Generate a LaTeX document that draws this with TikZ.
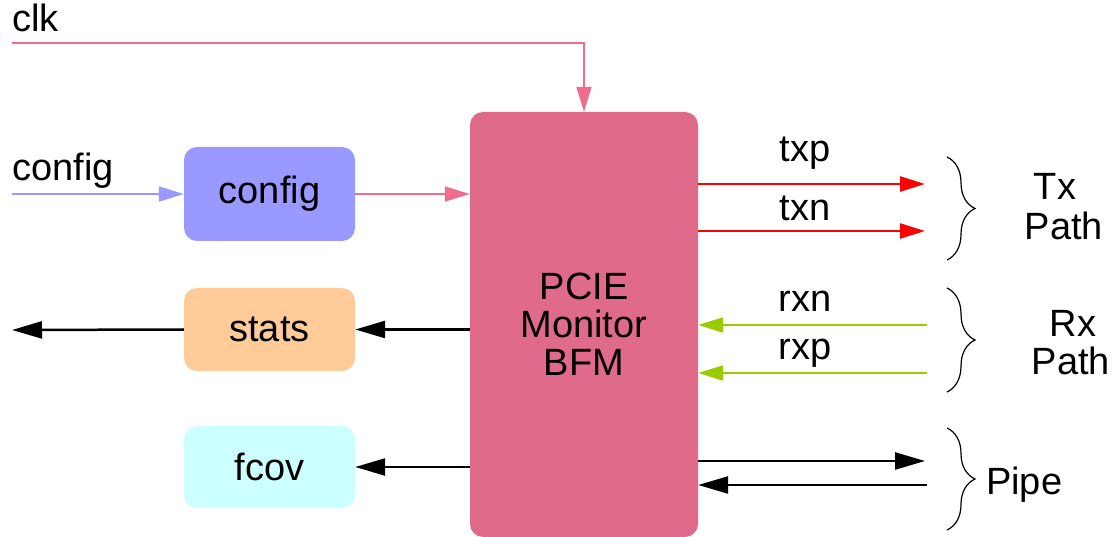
\documentclass[tikz,border=0pt]{standalone}
\usepackage{fontspec}
\setmainfont{Liberation Sans}
\usetikzlibrary{arrows.meta,decorations.pathreplacing}
\definecolor{mainpink}{RGB}{224,106,138}
\definecolor{clkpink}{RGB}{240,108,140}
\definecolor{cfgblue}{RGB}{153,153,255}
\definecolor{statsor}{RGB}{255,204,153}
\definecolor{fcovcy}{RGB}{204,255,255}
\definecolor{rxgreen}{RGB}{153,204,0}
\tikzset{
  lbl/.style={font=\fontsize{38}{38}\selectfont, inner sep=0pt, anchor=base},
  blk/.style={rounded corners=13pt, minimum width=171pt, inner sep=0pt, font=\fontsize{38}{38}\selectfont},
  tip/.style={-{Triangle[length=25pt,width=15pt]}},
  btip/.style={-{Triangle[length=30pt,width=17pt]}},
  brc/.style={decorate, decoration={brace, amplitude=28pt, aspect=0.5}, line width=1.2pt},
}
\begin{document}
\begin{tikzpicture}[x=1pt,y=-1pt]
\useasboundingbox (0,0) rectangle (1117,537);
% blocks
\node[blk, fill=mainpink, minimum width=228pt, minimum height=425pt, align=center] (bfm) at (584,324.5)
  {\fontsize{38}{38}\selectfont PCIE\\Monitor\\BFM};
\node[blk, fill=cfgblue, minimum height=94pt] (cfg) at (269.5,194) {config};
\node[blk, fill=statsor, minimum height=83pt] (stats) at (269.5,329.5) {stats};
\node[blk, fill=fcovcy, minimum height=82pt] (fcov) at (269.5,467) {fcov};
% free ends
\coordinate (clkin) at (12,43);
\coordinate (cfgin) at (12,194);
\coordinate (statsout) at (12,330);
\coordinate (txpend) at (925,184);
\coordinate (txnend) at (925,231);
\coordinate (rxnst) at (927,325);
\coordinate (rxpst) at (927,373);
\coordinate (pipeo) at (925,461);
\coordinate (pipei) at (927,485);
% labels
\node[lbl, anchor=base west] (clkl) at (12,32) {clk};
\node[lbl, anchor=base west] (cfgl) at (12,181) {config};
\node[lbl] (txpl) at (805,162) {txp};
\node[lbl] (txnl) at (805,221) {txn};
\node[lbl] (rxnl) at (805,312) {rxn};
\node[lbl] (rxpl) at (805,360) {rxp};
\node[lbl] (txl) at (1055,200) {Tx};
\node[lbl] (txpath) at (1064,240) {Path};
\node[lbl] (rxl) at (1073,337) {Rx};
\node[lbl] (rxpath) at (1071,375) {Path};
\node[lbl, anchor=base west] (pipel) at (986,494) {Pipe};
% connectors
\draw[clkpink, line width=2pt, tip] (clkin) -| (bfm.north);
\draw[cfgblue, line width=2pt, tip] (cfgin) -- (cfg.west);
\draw[clkpink, line width=2pt, tip] (cfg.east) -- (bfm.west |- cfg.east);
\draw[line width=2.5pt, btip] (bfm.west |- stats.east) -- (stats.east);
\draw[line width=2.5pt, btip] (stats.west) -- (statsout);
\draw[line width=2.5pt, btip] (bfm.west |- fcov.east) -- (fcov.east);
\draw[red, line width=2.5pt, tip] (bfm.east |- txpend) -- (txpend);
\draw[red, line width=2.5pt, tip] (bfm.east |- txnend) -- (txnend);
\draw[rxgreen, line width=2.5pt, tip] (rxnst) -- (bfm.east |- rxnst);
\draw[rxgreen, line width=2.5pt, tip] (rxpst) -- (bfm.east |- rxpst);
\draw[line width=2.5pt, btip] (bfm.east |- pipeo) -- (pipeo);
\draw[line width=2.5pt, btip] (pipei) -- (bfm.east |- pipei);
% braces
\draw[brc] (947,157) -- (947,260);
\draw[brc] (947,288) -- (947,392);
\draw[brc] (947,428) -- (947,530);
\end{tikzpicture}
\end{document}
